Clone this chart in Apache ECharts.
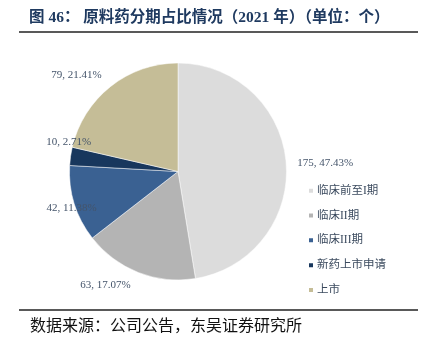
<!DOCTYPE html>
<html>
<head>
<meta charset="utf-8">
<script src="https://cdn.jsdelivr.net/npm/echarts@6/dist/echarts.min.js"></script>
<style>
  html, body { margin: 0; padding: 0; background: #fff; }
  #chart { width: 430px; height: 341px; }
</style>
</head>
<body>
<div id="chart"></div>
<script>
// Stages of API (原料药) projects, 2021, counts
const stages = ['临床前至I期', '临床II期', '临床III期', '新药上市申请', '上市'];
const counts = [175, 63, 42, 10, 79];
const colors = ['#dcdcdc', '#b4b4b4', '#3a6192', '#18375d', '#c5bd97'];
// per-slice label placement (label line hidden, lengths only steer the text)
const labelLen = [1, 14, 15, 104, 15];
const labelLen2 = [5, -2.5, -41.5, -128.5, -5.5];

const chart = echarts.init(document.getElementById('chart'), null, { renderer: 'canvas' });

const serifCJK = "'Liberation Serif', 'Noto Sans CJK SC', serif";

chart.setOption({
  animation: false,
  backgroundColor: '#ffffff',
  color: colors,
  legend: {
    orient: 'vertical',
    left: 302,
    top: 180,
    itemWidth: 6,
    itemHeight: 6,
    itemGap: 13.3,
    icon: 'rect',
    data: stages,
    textStyle: { fontSize: 11.5, color: '#3b4a5e', fontFamily: serifCJK, padding: [0, 0, 0, -2] }
  },
  graphic: [
    { type: 'text', left: 29, top: 10,
      style: { text: '图 46： 原料药分期占比情况（2021 年）（单位：个）', fontSize: 15.5, fontWeight: 'bold',
               fill: '#1f3a60', fontFamily: serifCJK } },
    { type: 'line', shape: { x1: 19, y1: 32, x2: 418, y2: 32 }, style: { stroke: '#222', lineWidth: 1.6 } },
    { type: 'line', shape: { x1: 19, y1: 310, x2: 418, y2: 310 }, style: { stroke: '#222', lineWidth: 1.6 } },
    { type: 'text', left: 30, top: 319,
      style: { text: '数据来源：公司公告，东吴证券研究所', fontSize: 16, fill: '#111', fontFamily: serifCJK } }
  ],
  series: [{
    type: 'pie',
    center: [178, 171.5],
    radius: 108.5,
    startAngle: 90,
    clockwise: true,
    avoidLabelOverlap: false,
    itemStyle: { borderColor: '#ffffff', borderWidth: 0.5 },
    label: {
      show: true,
      position: 'outside',
      formatter: '{c}, {d}%',
      fontSize: 11,
      color: '#44546a',
      fontFamily: "'Liberation Serif', serif"
    },
    labelLine: { show: false },
    emphasis: { disabled: true },
    data: stages.map((name, i) => ({
      name: name,
      value: counts[i],
      labelLine: { show: false, length: labelLen[i], length2: labelLen2[i] }
    }))
  }]
});
</script>
</body>
</html>
